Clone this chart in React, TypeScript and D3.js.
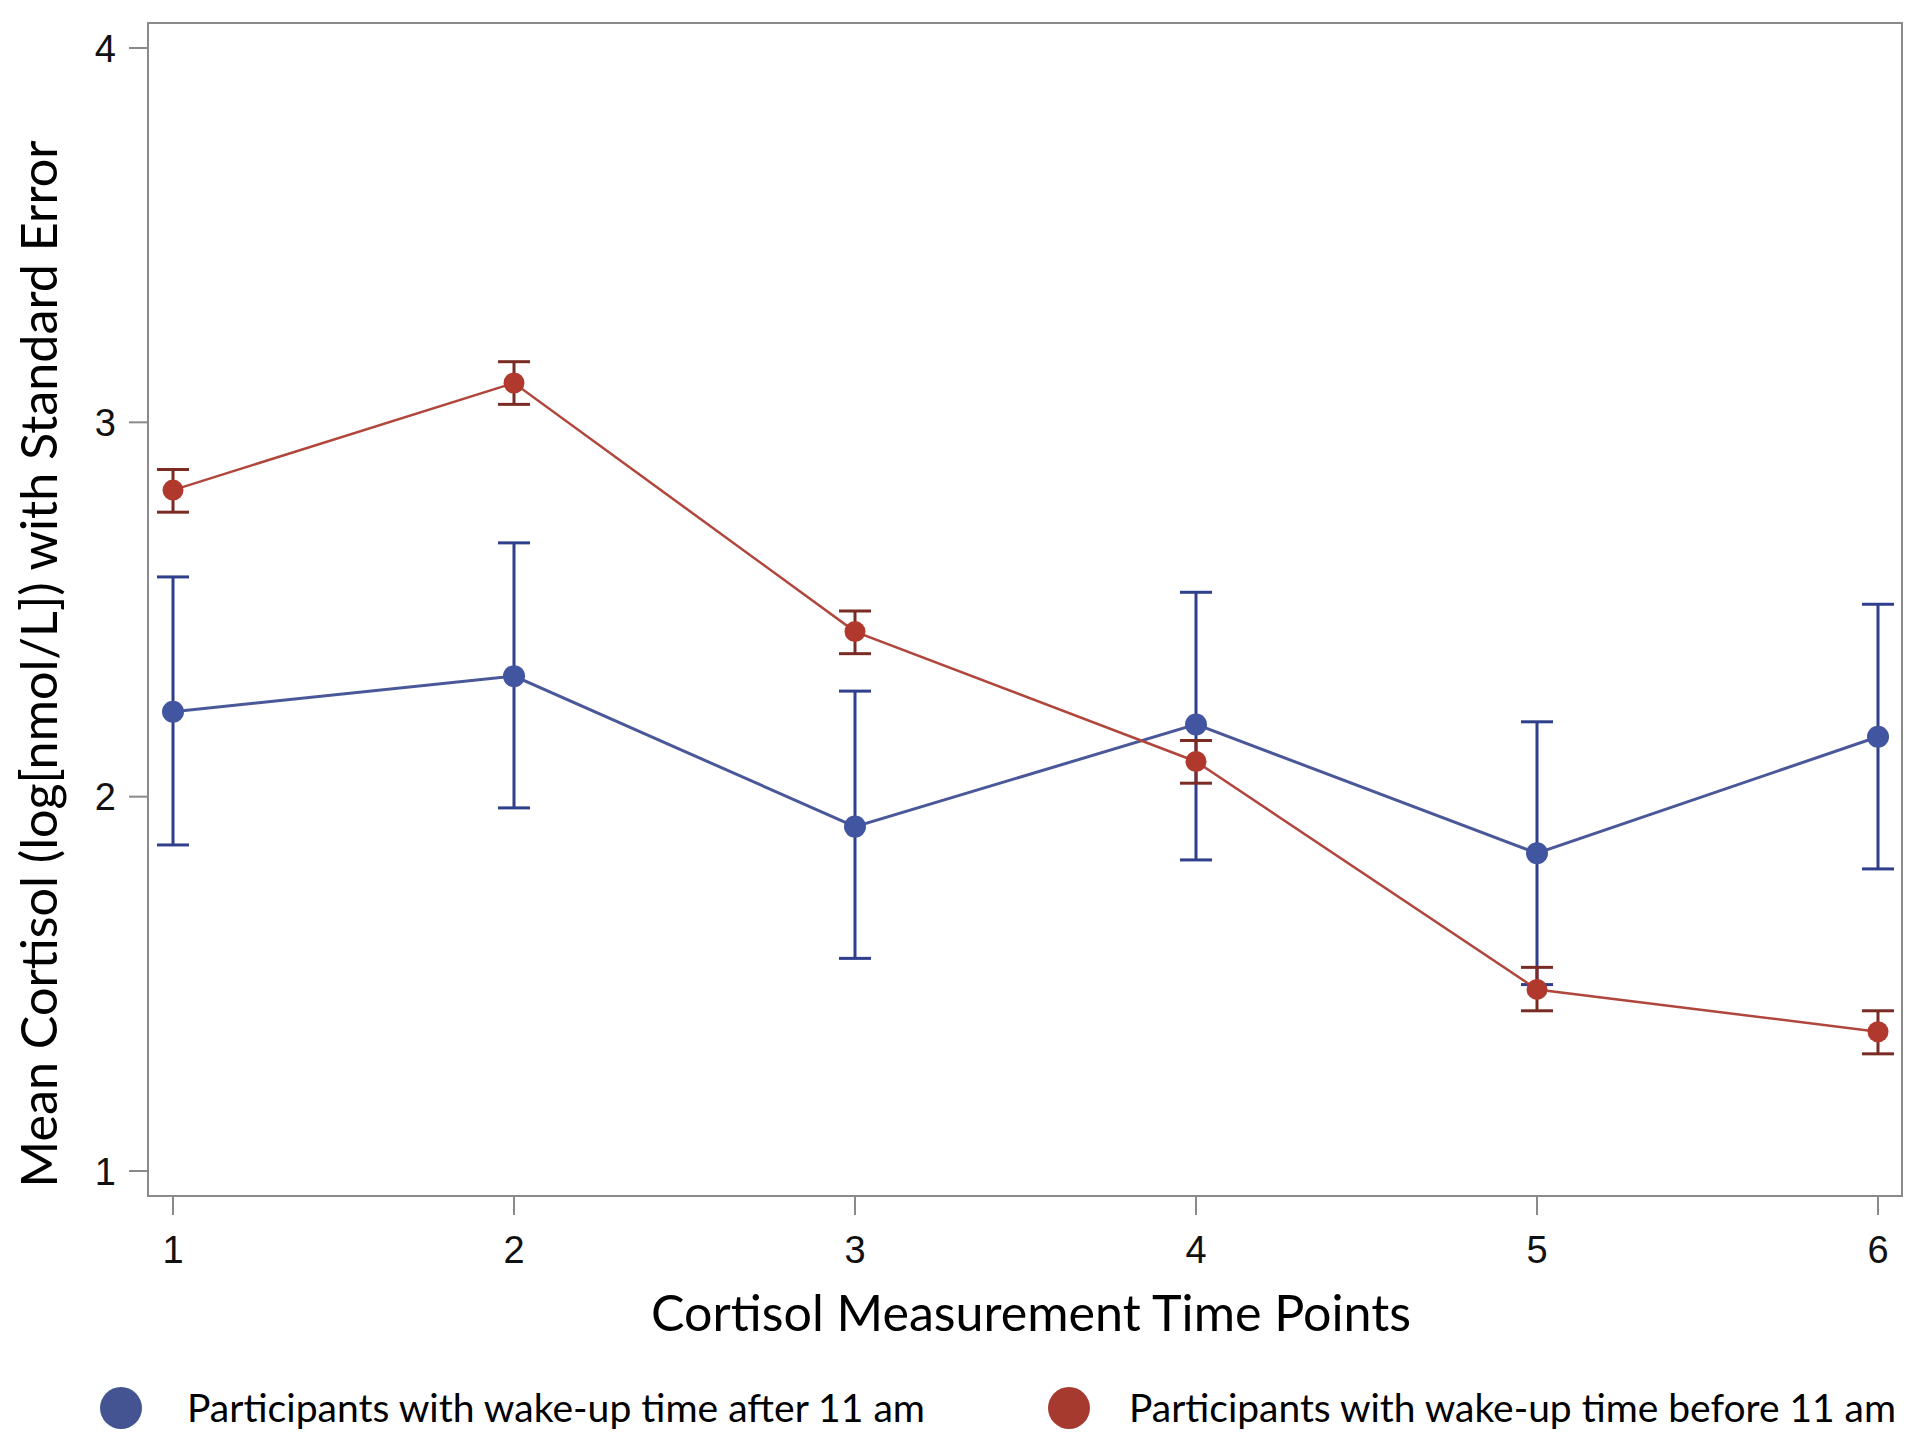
import React from "react";
import * as d3 from "d3";

const timePoints = [1, 2, 3, 4, 5, 6];
const afterMean = [2.227, 2.322, 1.92, 2.193, 1.849, 2.16];
const afterUpper = [2.587, 2.678, 2.282, 2.546, 2.2, 2.514];
const afterLower = [1.871, 1.97, 1.568, 1.831, 1.498, 1.807];
const beforeMean = [2.819, 3.105, 2.441, 2.094, 1.485, 1.372];
const beforeUpper = [2.874, 3.162, 2.496, 2.15, 1.544, 1.428];
const beforeLower = [2.76, 3.048, 2.382, 2.036, 1.428, 1.313];
const yTicks = [1, 2, 3, 4];
const xTicks = [1, 2, 3, 4, 5, 6];
const seriesNames = [
  "Participants with wake-up time after 11 am",
  "Participants with wake-up time before 11 am",
];
const xTitle = "Cortisol Measurement Time Points";
const yTitle = "Mean Cortisol (log[nmol/L]) with Standard Error";

const W = 1920;
const H = 1444;
const frame = { left: 148, top: 23, right: 1902, bottom: 1196 };

export default function App() {
  const x = d3.scaleLinear().domain([1, 6]).range([173, 1878]);
  const y = d3.scaleLinear().domain([1, 4]).range([1171, 48]);

  const series = [
    {
      mean: afterMean,
      upper: afterUpper,
      lower: afterLower,
      line: "#4a5899",
      lineW: 3,
      bar: "#2f3f8b",
      marker: "#4255a0",
      r: 11,
      legend: "#445493",
    },
    {
      mean: beforeMean,
      upper: beforeUpper,
      lower: beforeLower,
      line: "#b0463c",
      lineW: 2.5,
      bar: "#7a2b24",
      marker: "#b0382d",
      r: 10.5,
      legend: "#a63a2f",
    },
  ];

  const lineGen = d3
    .line<number>()
    .x((_, i) => x(timePoints[i]))
    .y((d) => y(d));

  const tickFont = "'Liberation Sans Narrow', 'Arial Narrow', 'Liberation Sans', Arial, sans-serif";
  const titleFont = "Lato, 'Open Sans', sans-serif";
  const capHalf = 16;

  return (
    <svg
      width={W}
      height={H}
      style={{ position: "absolute", left: 0, top: 0, background: "#fff" }}
    >
      <rect x={0} y={0} width={W} height={H} fill="#fff" />
      {/* frame */}
      <rect
        x={frame.left}
        y={frame.top}
        width={frame.right - frame.left}
        height={frame.bottom - frame.top}
        fill="none"
        stroke="#8a8a8a"
        strokeWidth={2}
      />
      {/* y ticks */}
      {yTicks.map((t) => (
        <g key={"y" + t}>
          <line x1={129} x2={frame.left} y1={y(t)} y2={y(t)} stroke="#8a8a8a" strokeWidth={2} />
          <text
            x={116}
            y={y(t)}
            dy="0.36em"
            textAnchor="end"
            fontFamily={tickFont}
            fontSize={38}
            fill="#111"
          >
            {t}
          </text>
        </g>
      ))}
      {/* x ticks */}
      {xTicks.map((t) => (
        <g key={"x" + t}>
          <line x1={x(t)} x2={x(t)} y1={frame.bottom} y2={frame.bottom + 19} stroke="#8a8a8a" strokeWidth={2} />
          <text
            x={x(t)}
            y={1263}
            textAnchor="middle"
            fontFamily={tickFont}
            fontSize={38}
            fill="#111"
          >
            {t}
          </text>
        </g>
      ))}
      {/* series */}
      {series.map((s, si) => (
        <g key={"s" + si}>
          <path d={lineGen(s.mean) || ""} fill="none" stroke={s.line} strokeWidth={s.lineW} />
          {s.mean.map((m, i) => (
            <g key={i}>
              <line x1={x(timePoints[i])} x2={x(timePoints[i])} y1={y(s.upper[i])} y2={y(s.lower[i])} stroke={s.bar} strokeWidth={3} />
              <line x1={x(timePoints[i]) - capHalf} x2={x(timePoints[i]) + capHalf} y1={y(s.upper[i])} y2={y(s.upper[i])} stroke={s.bar} strokeWidth={3} />
              <line x1={x(timePoints[i]) - capHalf} x2={x(timePoints[i]) + capHalf} y1={y(s.lower[i])} y2={y(s.lower[i])} stroke={s.bar} strokeWidth={3} />
              <circle cx={x(timePoints[i])} cy={y(m)} r={s.r} fill={s.marker} />
            </g>
          ))}
        </g>
      ))}
      {/* axis titles */}
      <text
        x={1031}
        y={1331}
        textAnchor="middle"
        fontFamily={titleFont}
        fontSize={50}
        fill="#000"
        textLength={760}
        lengthAdjust="spacingAndGlyphs"
      >
        {xTitle}
      </text>
      <text
        transform={`translate(57, 664) rotate(-90)`}
        textAnchor="middle"
        fontFamily={titleFont}
        fontSize={50}
        fill="#000"
        textLength={1047}
        lengthAdjust="spacingAndGlyphs"
      >
        {yTitle}
      </text>
      {/* legend */}
      <ellipse cx={121} cy={1408} rx={21} ry={21} fill={series[0].legend} />
      <text
        x={187}
        y={1422}
        fontFamily={titleFont}
        fontSize={39}
        fill="#000"
        textLength={738}
        lengthAdjust="spacingAndGlyphs"
      >
        {seriesNames[0]}
      </text>
      <ellipse cx={1069} cy={1408} rx={21} ry={21} fill={series[1].legend} />
      <text
        x={1129}
        y={1422}
        fontFamily={titleFont}
        fontSize={39}
        fill="#000"
        textLength={767}
        lengthAdjust="spacingAndGlyphs"
      >
        {seriesNames[1]}
      </text>
    </svg>
  );
}
